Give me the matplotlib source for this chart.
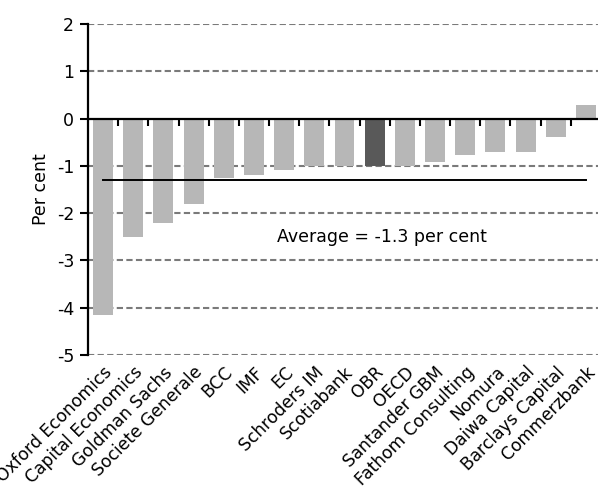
import matplotlib
matplotlib.use("Agg")
import matplotlib.pyplot as plt
import numpy as np

categories = ["Oxford Economics", "Capital Economics", "Goldman Sachs", "Societe Generale",
              "BCC", "IMF", "EC", "Schroders IM", "Scotiabank", "OBR", "OECD",
              "Santander GBM", "Fathom Consulting", "Nomura", "Daiwa Capital",
              "Barclays Capital", "Commerzbank"]
values = [-4.15, -2.5, -2.2, -1.8, -1.25, -1.2, -1.08, -1.0, -1.0, -1.0, -1.0,
          -0.92, -0.78, -0.7, -0.7, -0.38, 0.28]
highlight = "OBR"
average = -1.3
yticks = [-5, -4, -3, -2, -1, 0, 1, 2]

plt.rcParams['font.family'] = ['DejaVu Sans']

fig = plt.figure(figsize=(5.98, 4.94), dpi=100)
ax = fig.add_axes([88/598, 1-355/494, (601-88)/598, (355-24)/494])

x = np.arange(len(categories))
colors = ['#595959' if c == highlight else '#b7b7b7' for c in categories]

for yv in yticks:
    if yv != 0:
        ax.axhline(yv, color='#7a7a7a', lw=1.5, ls=(0, (3, 1.6)), zorder=1)
ax.bar(x, values, width=0.66, color=colors, zorder=2)
ax.axhline(0, color='black', lw=1.6, zorder=3)
ax.plot(x[:-1] + 0.5, np.zeros(len(x) - 1), ls='none', marker=3, ms=5, mew=1.5,
        color='black', zorder=3, clip_on=False)
ax.plot([x[0], x[-1]], [average, average], color='black', lw=1.4, zorder=3)
ax.text(9.25, -2.5, f"Average = {average} per cent", ha='center', va='center', fontsize=12.5)

ax.set_xlim(-0.5, len(categories) - 0.5)
ax.set_ylim(-5, 2)
ax.set_yticks(yticks)
ax.set_yticklabels([str(v) for v in yticks], fontsize=12.5)
ax.tick_params(axis='y', direction='out', length=6, width=1.5, pad=4)
ax.set_xticks(x)
ax.set_xticklabels(categories, rotation=45, ha='right', rotation_mode='anchor', fontsize=12.3)
ax.tick_params(axis='x', length=0, pad=6)
for s in ['top', 'right', 'bottom']:
    ax.spines[s].set_visible(False)
ax.spines['left'].set_linewidth(1.6)
ax.set_ylabel("Per cent", fontsize=12.5, labelpad=5)

fig.savefig("out.png", dpi=100)
